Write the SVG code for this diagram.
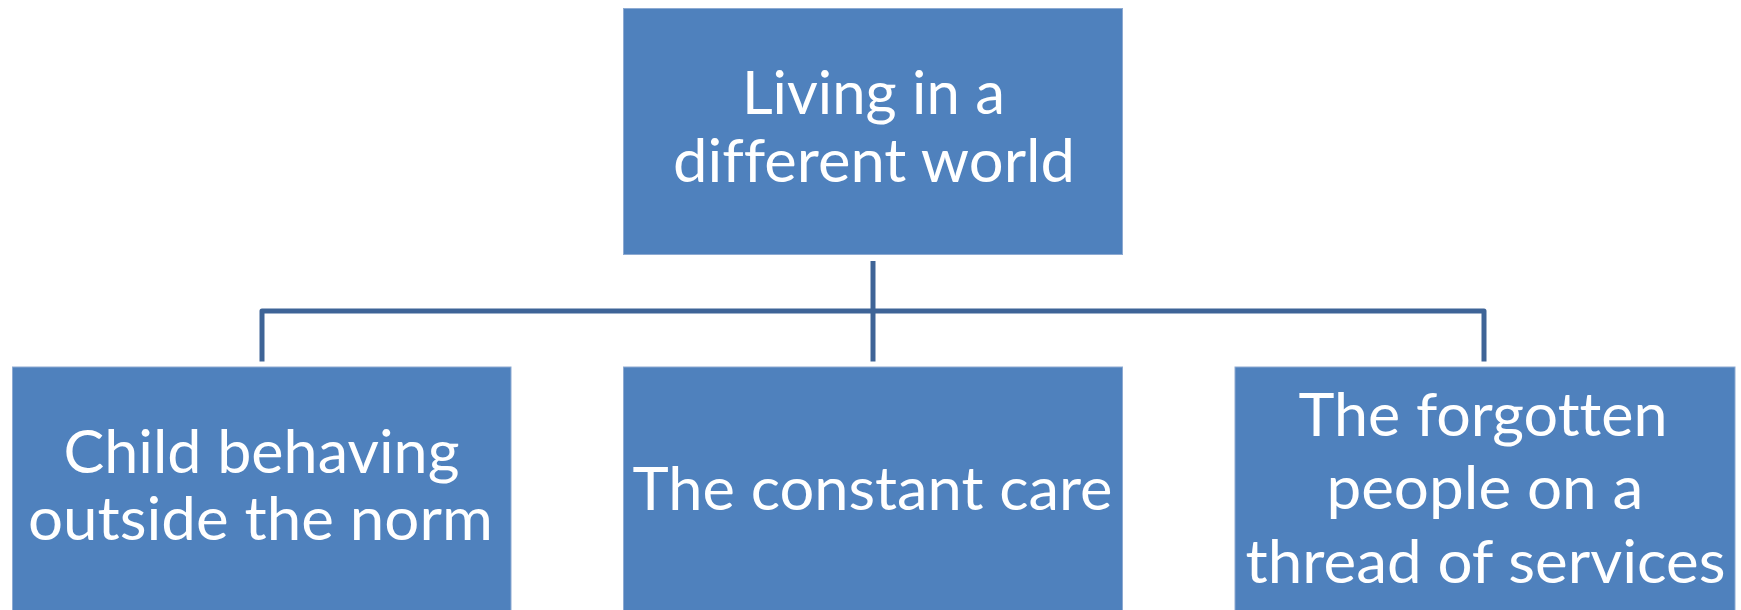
<svg xmlns="http://www.w3.org/2000/svg" width="1741" height="610" viewBox="0 0 1741 610">
  <style>
    .box { fill: #4F81BD; stroke: #8DAAD2; stroke-width: 1; }
    .label { fill: #FFFFFF; font-family: Lato, "Open Sans", "Liberation Sans", sans-serif; font-size: 60px; text-anchor: middle; font-variant-ligatures: none; font-feature-settings: "liga" 0, "clig" 0; }
    .link { fill: none; stroke: #3E6497; stroke-width: 5; stroke-linejoin: round; }
  </style>
  <rect x="0" y="0" width="1741" height="610" fill="#FFFFFF"/>

  <!-- hierarchy connectors -->
  <g id="connectors">
    <path class="link" d="M873,261 V361.5"/>
    <path class="link" d="M262,361.5 V311 H1484 V361.5"/>
  </g>

  <!-- root -->
  <g id="node-root">
    <rect class="box" x="623.5" y="8.5" width="499" height="246"/>
    <text class="label" x="873.4" y="114" textLength="263" lengthAdjust="spacingAndGlyphs">Living in a</text>
    <text class="label" x="874" y="181.7" textLength="402" lengthAdjust="spacingAndGlyphs">different world</text>
  </g>

  <!-- children -->
  <g id="node-child-behaving">
    <rect class="box" x="12.5" y="367" width="498.5" height="260"/>
    <text class="label" x="261.4" y="472.7" textLength="396" lengthAdjust="spacingAndGlyphs">Child behaving</text>
    <text class="label" x="260.4" y="540" textLength="465" lengthAdjust="spacingAndGlyphs">outside the norm</text>
  </g>

  <g id="node-constant-care">
    <rect class="box" x="623.5" y="367" width="499" height="260"/>
    <text class="label" x="872.5" y="510" textLength="480" lengthAdjust="spacingAndGlyphs">The constant care</text>
  </g>

  <g id="node-forgotten-people">
    <rect class="box" x="1235" y="367" width="500" height="260"/>
    <text class="label" x="1483" y="436" textLength="369" lengthAdjust="spacingAndGlyphs">The forgotten</text>
    <text class="label" x="1484.9" y="509.3" textLength="317" lengthAdjust="spacingAndGlyphs">people on a</text>
    <text class="label" x="1485.5" y="582.7" textLength="480" lengthAdjust="spacingAndGlyphs">thread of services</text>
  </g>
</svg>
